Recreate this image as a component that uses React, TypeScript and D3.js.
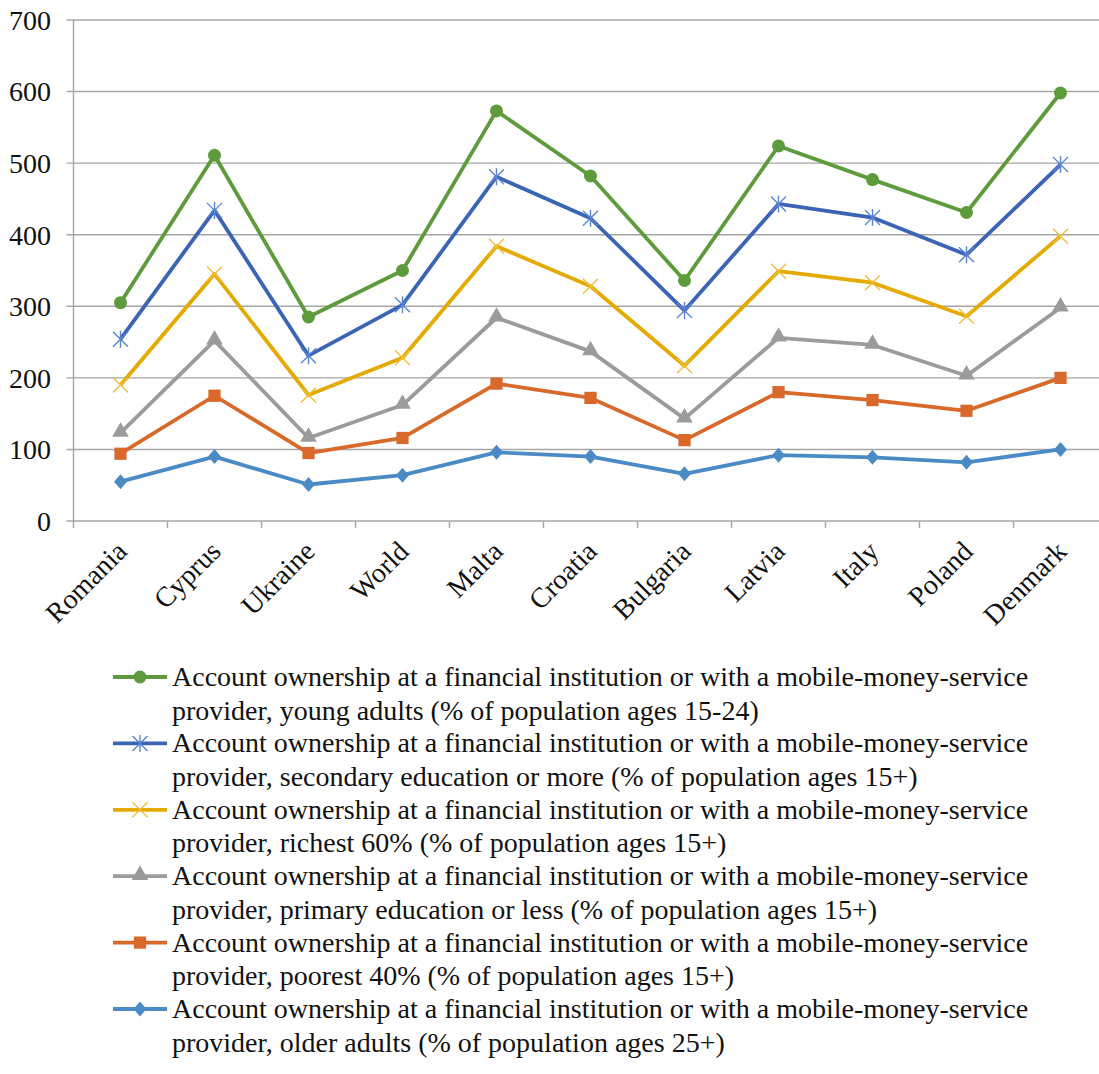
import React from "react";
import * as d3 from "d3";

const WIDTH = 1099;
const HEIGHT = 1074;
const FONT = '"Liberation Serif", "Times New Roman", Times, "DejaVu Serif", serif';

const countries = [
  "Romania",
  "Cyprus",
  "Ukraine",
  "World",
  "Malta",
  "Croatia",
  "Bulgaria",
  "Latvia",
  "Italy",
  "Poland",
  "Denmark",
];

// stacked from the bottom up, each value is its own % share
const olderAdults = [55, 90, 51, 64, 96, 90, 66, 92, 89, 82, 100];
const poorest40 = [39, 85, 44, 52, 96, 82, 47, 88, 80, 72, 100];
const primaryEdu = [29, 77, 21, 46, 92, 65, 30, 76, 77, 49, 98];
const richest60 = [67, 93, 60, 66, 100, 91, 74, 93, 87, 83, 100];
const secondaryEdu = [64, 89, 55, 74, 97, 95, 77, 94, 91, 86, 100];
const youngAdults = [51, 77, 54, 48, 92, 59, 42, 81, 53, 59, 100];

const yTicks = [0, 100, 200, 300, 400, 500, 600, 700];

const LINE1 =
  "Account ownership at a financial institution or with a mobile-money-service";

type Marker = "circle" | "asterisk" | "cross" | "triangle" | "square" | "diamond";

const series: { key: string; values: number[]; color: string; marker: Marker; label: string }[] = [
  { key: "older", values: olderAdults, color: "#4a8bc6", marker: "diamond", label: "provider, older adults (% of population ages 25+)" },
  { key: "poorest", values: poorest40, color: "#d9692a", marker: "square", label: "provider, poorest 40% (% of population ages 15+)" },
  { key: "primary", values: primaryEdu, color: "#9b9b9b", marker: "triangle", label: "provider, primary education or less (% of population ages 15+)" },
  { key: "richest", values: richest60, color: "#e5aa00", marker: "cross", label: "provider, richest 60% (% of population ages 15+)" },
  { key: "secondary", values: secondaryEdu, color: "#3b64b5", marker: "asterisk", label: "provider, secondary education or more (% of population ages 15+)" },
  { key: "young", values: youngAdults, color: "#5d9b3c", marker: "circle", label: "provider, young adults (% of population ages 15-24)" },
];

const M = { left: 73.5, top: 20, bottom: 521 };

function MarkerShape({ type, x, y, color }: { type: Marker; x: number; y: number; color: string }) {
  const t = `translate(${x},${y})`;
  if (type === "circle") return <circle cx={x} cy={y} r={6.5} fill={color} />;
  if (type === "square")
    return <path transform={t} d={d3.symbol(d3.symbolSquare, 150)()!} fill={color} />;
  if (type === "triangle")
    return <path transform={t + " translate(0,-1)"} d={d3.symbol(d3.symbolTriangle, 120)()!} fill={color} />;
  if (type === "diamond")
    return <path transform={t} d="M0,-7.5L6.5,0L0,7.5L-6.5,0Z" fill={color} />;
  const s = 7.5;
  const light = type === "asterisk" ? "#5a84d6" : "#f0be3a";
  let d = `M${-s},${-s}L${s},${s}M${-s},${s}L${s},${-s}`;
  if (type === "asterisk") d += `M0,${-s - 1}L0,${s + 1}`;
  return <path transform={t} d={d} stroke={light} strokeWidth={1.4} fill="none" />;
}

export default function App() {
  const x = d3
    .scaleBand<string>()
    .domain(countries)
    .range([M.left, M.left + countries.length * 94]);
  const y = d3.scaleLinear().domain([0, 700]).range([M.bottom, M.top]);

  const rows = countries.map((c, i) => {
    const r: Record<string, number | string> = { country: c };
    series.forEach((s) => (r[s.key] = s.values[i]));
    return r;
  });
  const stacked = d3.stack<Record<string, number | string>>().keys(series.map((s) => s.key))(
    rows as any
  );

  const cx = (c: string) => x(c)! + x.bandwidth() / 2;
  const line = d3
    .line<d3.SeriesPoint<Record<string, number | string>>>()
    .x((d) => cx(d.data.country as string))
    .y((d) => y(d[1]));

  const tickXs = d3.range(countries.length + 1).map((i) => M.left + i * x.bandwidth());
  const legend = [...series].reverse();

  return (
    <svg
      width={WIDTH}
      height={HEIGHT}
      style={{ position: "absolute", left: 0, top: 0, background: "#fff", fontFamily: FONT }}
    >
      {/* grid */}
      {yTicks.map((t) => (
        <g key={t}>
          <line x1={M.left - 7} x2={WIDTH} y1={y(t)} y2={y(t)} stroke="#a6a6a6" strokeWidth={1.4} />
          <text x={51} y={y(t)} dy="0.35em" textAnchor="end" fontSize={28} fill="#111">
            {t}
          </text>
        </g>
      ))}
      <line x1={M.left} x2={M.left} y1={M.top} y2={M.bottom} stroke="#a6a6a6" strokeWidth={1.4} />
      {tickXs.map((tx) => (
        <line key={tx} x1={tx} x2={tx} y1={M.bottom} y2={M.bottom + 7} stroke="#a6a6a6" strokeWidth={1.4} />
      ))}
      {countries.map((c) => (
        <text
          key={c}
          transform={`translate(${cx(c) + 8},${M.bottom + 32}) rotate(-45)`}
          textAnchor="end"
          fontSize={28}
          fill="#111"
        >
          {c}
        </text>
      ))}

      {/* series */}
      {stacked.map((layer, i) => (
        <path key={layer.key} d={line(layer)!} fill="none" stroke={series[i].color} strokeWidth={3.8} strokeLinejoin="round" />
      ))}
      {stacked.map((layer, i) =>
        layer.map((d) => (
          <MarkerShape
            key={layer.key + d.data.country}
            type={series[i].marker}
            x={cx(d.data.country as string)}
            y={y(d[1])}
            color={series[i].color}
          />
        ))
      )}

      {/* legend */}
      {legend.map((s, i) => {
        const base = 686 + i * 66.4;
        const my = base - 9;
        return (
          <g key={s.key}>
            <line x1={113} x2={167} y1={my} y2={my} stroke={s.color} strokeWidth={3.8} />
            <MarkerShape type={s.marker} x={140} y={my} color={s.color} />
            <text x={172} y={base} fontSize={28} fill="#111">
              {LINE1}
            </text>
            <text x={172} y={base + 33.5} fontSize={28} fill="#111">
              {s.label}
            </text>
          </g>
        );
      })}
    </svg>
  );
}
